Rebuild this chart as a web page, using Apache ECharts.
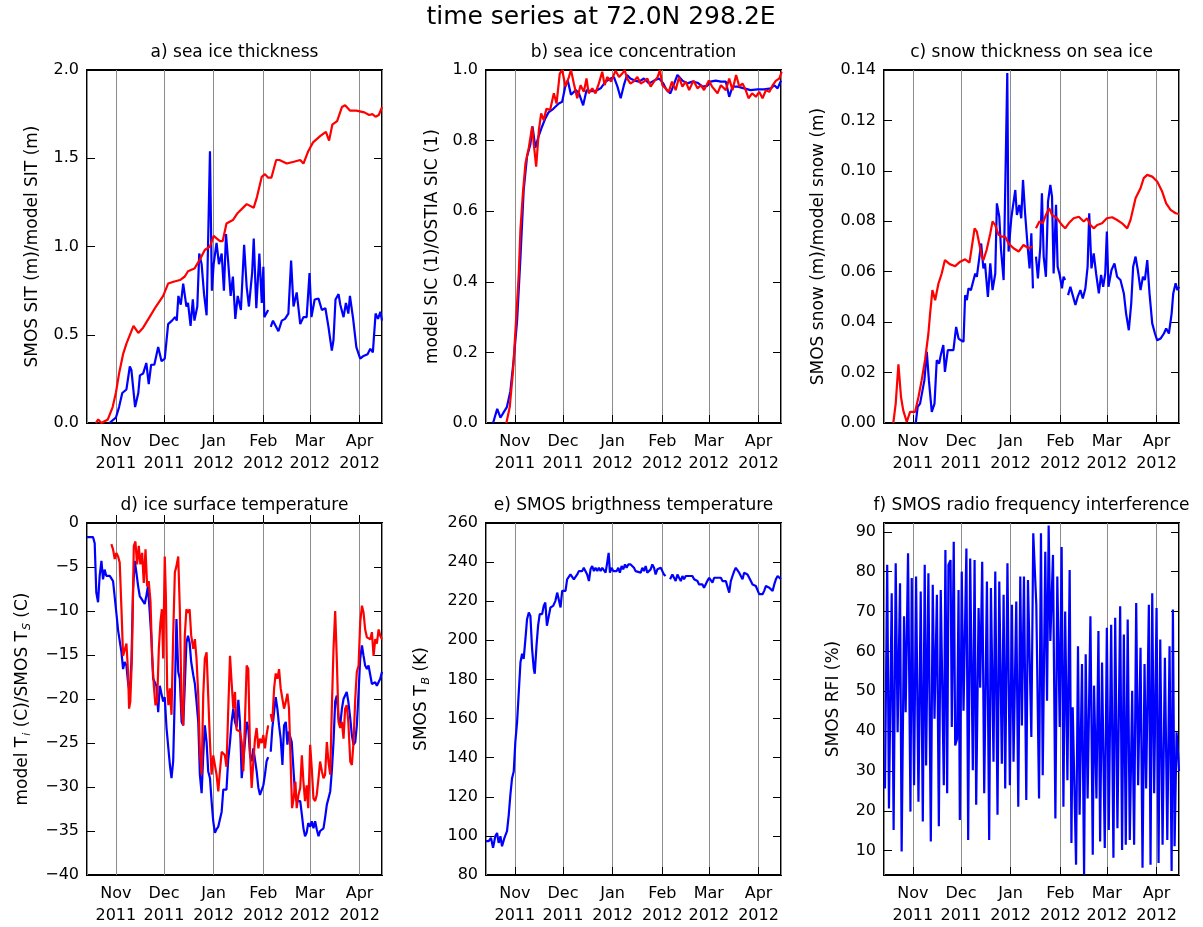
<!DOCTYPE html>
<html>
<head>
<meta charset="UTF-8">
<title>time series at 72.0N 298.2E</title>
<script src="https://cdn.jsdelivr.net/npm/echarts@6/dist/echarts.min.js"></script>
<style>
  html, body { margin: 0; padding: 0; background: #fff; }
  #main { width: 1203px; height: 927px; }
</style>
</head>
<body>
<div id="main"></div>
<script type="text/javascript">
// days counted from 14 Oct 2011
var sitSmos = [[14,0.0],[15,0.01],[18,0.03],[20,0.09],[22,0.17],[24.6,0.19],[26.7,0.32],[27.7,0.30],[30,0.09],[32,0.17],[33,0.27],[35,0.28],[37,0.34],[38.5,0.22],[40,0.33],[42,0.33],[44.4,0.43],[46.5,0.35],[48.5,0.365],[50.6,0.56],[53,0.58],[55,0.6],[56,0.58],[57,0.72],[58.5,0.67],[60,0.79],[62,0.66],[63,0.68],[64.6,0.55],[66,0.70],[67,0.58],[68.8,0.66],[70,0.96],[71.5,0.90],[73,0.73],[74.6,0.61],[75.6,0.61],[76.7,1.54],[77.9,0.75],[79,0.90],[80.8,1.02],[82.3,0.90],[84,0.96],[85.4,0.75],[86.7,1.07],[88,0.92],[89.6,0.72],[91,0.83],[92.5,0.59],[94,0.72],[96,0.64],[98,1.01],[99.6,0.77],[101,0.66],[103,0.85],[104,1.045],[105.6,0.65],[107.5,0.96],[109,0.68],[110,0.885],[110.6,0.60],[113,0.64],[113.8,'-'],[114.6,0.545],[116,0.58],[119.4,0.52],[121.5,0.58],[123.5,0.59],[125.6,0.62],[127.3,0.92],[128.8,0.66],[130.8,0.74],[133,0.56],[135,0.60],[137,0.60],[138.8,0.85],[140,0.60],[142,0.70],[144.4,0.705],[146.5,0.64],[148.7,0.65],[150.6,0.545],[152.7,0.41],[153.75,0.47],[155,0.70],[156.9,0.73],[158,0.67],[160,0.60],[161.5,0.68],[163,0.62],[164,0.72],[166,0.59],[168,0.43],[170.4,0.365],[172.5,0.38],[175,0.39],[176.7,0.42],[178.3,0.40],[180,0.62],[181.5,0.59],[183,0.63],[184,0.58]];
var sitModel = [[5.5,0.0],[7,0.02],[9,0.0],[13,0.02],[16,0.09],[18,0.17],[20,0.28],[22.5,0.39],[24.6,0.45],[29,0.55],[32,0.51],[35,0.54],[39,0.6],[43,0.66],[47.5,0.72],[50.6,0.79],[54,0.8],[58,0.81],[61,0.83],[63,0.86],[67,0.875],[70,0.92],[73.5,0.98],[76.7,1.0],[79,1.06],[81,1.045],[83,1.03],[84.6,1.03],[87,1.13],[91,1.15],[94,1.19],[99.6,1.24],[104,1.22],[106,1.28],[109,1.395],[111,1.41],[113,1.39],[115,1.39],[118,1.49],[120,1.49],[124.6,1.47],[129,1.48],[133,1.49],[135,1.47],[138,1.54],[141,1.59],[145.4,1.625],[149,1.65],[150,1.64],[151,1.6],[153,1.69],[156,1.71],[159,1.79],[161,1.80],[164,1.77],[168,1.77],[173,1.76],[176,1.745],[178,1.75],[180,1.735],[182,1.745],[184,1.79]];

var sicModel = [[4.4,0],[7,0.04],[9,0.015],[11,0.03],[13,0.045],[15.2,0.09],[17.3,0.18],[19.4,0.29],[21.5,0.47],[23.5,0.66],[25.6,0.755],[27.7,0.79],[29,0.84],[30.8,0.78],[33,0.815],[35,0.84],[37,0.863],[39,0.88],[42,0.89],[45.4,0.905],[47.5,0.91],[49.6,0.957],[51,0.97],[53,0.93],[56,0.943],[58,0.934],[60.6,0.90],[62.7,0.943],[65,0.94],[68,0.94],[71.5,0.948],[74.6,0.967],[77.7,0.976],[79.8,0.98],[82,0.953],[84,0.92],[86,0.957],[88,0.986],[90,0.976],[92.7,0.97],[95.4,0.967],[98.5,0.976],[101.7,0.962],[104.8,0.97],[108,0.976],[110.6,0.962],[112.7,0.943],[115,0.934],[117,0.957],[119.4,0.986],[122.5,0.97],[125.6,0.962],[128.8,0.967],[131.9,0.964],[135,0.953],[138,0.955],[140,0.967],[143.3,0.97],[146.5,0.967],[149.6,0.967],[151.7,0.924],[153.75,0.953],[157,0.953],[161,0.948],[165,0.943],[169.4,0.945],[173.5,0.945],[177.7,0.948],[179.8,0.957],[181.9,0.948],[184,0.97]];
var sicOstia = [[12.7,0],[14.8,0.045],[16.9,0.15],[19,0.31],[20.4,0.42],[21.5,0.55],[23,0.65],[24.6,0.735],[26.7,0.78],[28.8,0.84],[29.8,0.79],[31.3,0.726],[33,0.83],[34.4,0.877],[36,0.858],[37.7,0.89],[40,0.887],[42.3,0.934],[44,0.905],[46,0.99],[47.5,1.0],[49.6,0.953],[51.7,0.98],[53,1.0],[54.8,0.962],[56.9,0.92],[59,0.957],[61,0.938],[62.7,0.976],[64,0.934],[66.3,0.948],[68.3,0.934],[70.4,0.962],[72.5,0.995],[74,0.957],[75.6,0.98],[78,0.967],[80.8,0.998],[83,0.98],[85,0.99],[86.5,1.0],[88,0.976],[90,0.962],[92,0.967],[94.4,0.98],[96.5,0.962],[98.5,0.967],[100.6,0.976],[102.7,0.953],[104.8,0.967],[107,0.98],[108.5,1.0],[110,0.957],[112,0.948],[114,0.938],[116,0.967],[118.3,0.943],[120.4,0.98],[122.5,0.953],[124.6,0.967],[126.7,0.943],[129.4,0.97],[131.9,0.948],[134,0.957],[136,0.943],[139,0.97],[141,0.953],[144.4,0.934],[146.5,0.957],[149.6,0.943],[151.7,0.976],[153.75,0.943],[156,0.986],[158,0.953],[160,0.962],[162,0.943],[163.75,0.92],[166,0.934],[168.3,0.924],[170.4,0.938],[172.5,0.92],[174.6,0.943],[176.7,0.938],[178.8,0.957],[180.9,0.97],[183,0.976],[184.4,0.995]];

var snowSmos = [[19.8,0],[21,0.0064],[22.5,0.0077],[23.5,0.0077],[25.2,0.017],[26.7,0.0282],[28,0.017],[29.8,0.0044],[31.5,0.0077],[32.9,0.0249],[34.4,0.0236],[35.6,0.0275],[37,0.0309],[38,0.0203],[39.8,0.0289],[41,0.0295],[43.3,0.0289],[45,0.0381],[46.5,0.0335],[48,0.0328],[49.6,0.0322],[50.6,0.0507],[51.7,0.0487],[52.7,0.0534],[54.2,0.0527],[55.4,0.0534],[56.9,0.0593],[57.9,0.058],[59.4,0.0653],[60.6,0.0712],[62,0.0613],[63,0.0633],[64.8,0.05],[66.3,0.0633],[67.7,0.0527],[69.4,0.0593],[70.4,0.0871],[71.9,0.0818],[73,0.0686],[74.6,0.0567],[75.6,0.056],[76.9,0.1388],[77.7,0.068],[79.4,0.0812],[80.4,0.0858],[81.9,0.0924],[82.9,0.0825],[84.4,0.0865],[85.6,0.0812],[86.7,0.0964],[88,0.0832],[89.6,0.0699],[90.8,0.0613],[91.9,0.0752],[92.9,0.0534],[93.8,'-'],[94.8,0.066],[96,0.0573],[97.5,0.0699],[98.5,0.0911],[99.6,0.066],[101,0.058],[102.3,0.0878],[103.75,0.0944],[104.8,0.0898],[105.8,0.0593],[107.3,0.0865],[108.3,0.062],[109.6,0.0587],[111,0.0534],[112,0.058],[113,0.0567],[114,'-'],[114.8,0.0507],[116.25,0.054],[117.7,0.0507],[119.4,0.0468],[120.8,0.05],[122.5,0.0527],[124,0.0494],[125.6,0.0534],[127,0.062],[128,0.0832],[129.4,0.0613],[130.8,0.0673],[132.3,0.0593],[134,0.0514],[135.4,0.0587],[136.7,0.054],[138,0.0593],[139,0.0759],[140,0.054],[141.9,0.0607],[143.75,0.0633],[145.4,0.058],[147.5,0.0567],[149.6,0.0514],[151,0.0434],[152.7,0.0368],[154.2,0.0474],[155.4,0.062],[156.9,0.066],[158.3,0.0607],[160,0.0527],[161.5,0.058],[162.7,0.0567],[164.2,0.0646],[165.6,0.0514],[167.3,0.0395],[169,0.0355],[170.4,0.0328],[172.5,0.0335],[174.6,0.0355],[176,0.0375],[177.7,0.0355],[179.4,0.0434],[180.4,0.0514],[181.9,0.0554],[183,0.0527],[184,0.054]];
var snowModel = [[5.8,0],[7.3,0.0077],[9,0.0233],[10.6,0.0103],[12,0.005],[14.2,0.0004],[16.25,0.0044],[19.4,0.0044],[21.5,0.0103],[23.5,0.017],[25.6,0.025],[27.7,0.0355],[28.75,0.0434],[30.2,0.0527],[31.9,0.0487],[34,0.0554],[36,0.0593],[38,0.0646],[39,0.0653],[41,0.063],[44.4,0.0622],[47.5,0.064],[50.6,0.0649],[53.3,0.0636],[54.8,0.0699],[56.5,0.0772],[57.9,0.0759],[59.4,0.0712],[61,0.066],[62,0.0646],[64,0.0686],[66.3,0.0752],[67.7,0.0799],[69.4,0.0785],[71.5,0.0746],[73.5,0.0739],[75.6,0.0739],[77.7,0.0712],[80.8,0.0693],[84,0.068],[87,0.0706],[90.2,0.0693],[92.7,0.0699],[93.8,'-'],[94.8,0.0772],[96.9,0.0799],[99,0.0792],[101,0.0825],[103,0.0852],[104.8,0.0825],[108,0.0812],[111,0.0785],[113,0.0772],[115.2,0.0792],[118.3,0.0812],[121.5,0.0818],[124.6,0.0799],[126.7,0.0812],[128.75,0.0785],[130.8,0.0772],[133,0.0785],[136,0.0792],[139,0.0812],[142.3,0.0816],[145.4,0.0805],[148.5,0.0792],[151.7,0.0772],[153.75,0.0805],[156.9,0.0891],[160,0.0931],[162,0.0971],[164.2,0.0984],[167.3,0.0977],[170.4,0.0958],[173.5,0.0918],[176,0.0871],[178.75,0.0845],[181.9,0.0832],[184,0.0829]];

var tiModel = [[0,-1.6],[3.75,-1.6],[4.8,-2.3],[5.8,-7.9],[6.9,-9.0],[7.9,-6.0],[9,-4.3],[10,-6.4],[11,-5.3],[12,-6.0],[14.2,-6.0],[16.25,-6.6],[18.3,-10.2],[19.4,-12.2],[20.4,-12.4],[21.5,-14.7],[22.5,-16.6],[23.5,-15.8],[24.6,-16.2],[25.6,-18.1],[26.7,-19.4],[27.7,-15.8],[28.75,-7.5],[29.8,-4.3],[30.8,-5.6],[31.9,-7.2],[32.9,-8.3],[35,-8.9],[36,-9.2],[37,-8.3],[38,-7.2],[39,-9.8],[40.2,-13.2],[41.25,-17.7],[42.3,-17.7],[43.3,-18.5],[44.4,-21.5],[45.4,-18.5],[46.5,-18.3],[47.5,-20.3],[48.5,-19.8],[49.6,-23.3],[50.6,-23.5],[51.7,-27.5],[52.7,-29.0],[53.75,-27.1],[54.8,-19.2],[55.8,-10.9],[56.9,-16.9],[57.9,-17.7],[59,-22.6],[60,-23.0],[61,-18.5],[62,-13.6],[63,-12.8],[64,-13.6],[65,-15.8],[66.3,-17.3],[67.3,-18.3],[68.3,-20.3],[69.4,-22.6],[70.4,-28.6],[71.5,-30.7],[72.5,-26.4],[73.5,-23.0],[74.6,-24.9],[75.6,-28.2],[76.7,-29.0],[77.7,-31.6],[78.75,-33.9],[79.8,-35.2],[80.8,-34.8],[81.9,-34.5],[82.9,-34.3],[84,-32.8],[85,-30.3],[86,-30.5],[87,-30.3],[88,-27.1],[89.2,-24.9],[90.2,-22.6],[91.25,-21.1],[92.3,-22.6],[93.3,-23.2],[94.4,-20.1],[95.4,-22.6],[96.5,-29.0],[97.5,-27.1],[98.5,-24.9],[99.6,-22.6],[100.6,-23.3],[101.7,-26.4],[102.7,-27.1],[103.75,-25.6],[104.8,-25.8],[105.8,-28.2],[106.9,-30.1],[107.9,-30.9],[109,-31.1],[110,-29.8],[111,-28.6],[112,-27.1],[113,-26.6],[113.8,'-'],[114.6,-26.0],[115.6,-23.3],[116.7,-21.5],[117.7,-19.8],[118.75,-21.1],[119.8,-23.0],[120.8,-24.5],[121.9,-27.5],[122.9,-23.0],[124,-22.6],[125,-25.2],[125.8,-23.7],[127.7,-24.9],[128.75,-27.9],[129.8,-30.9],[130.8,-31.6],[131.9,-31.5],[133,-31.6],[134,-33.1],[135,-34.7],[136,-35.6],[137,-35.2],[138,-34.1],[139.2,-34.5],[140.2,-33.9],[141.25,-34.7],[142.3,-33.9],[143.3,-34.8],[144.4,-35.6],[145.4,-35.0],[146.5,-34.8],[147.5,-34.7],[148.5,-33.5],[149.6,-32.0],[150.6,-31.3],[151.7,-30.5],[152.7,-28.2],[153.75,-24.9],[154.8,-20.3],[155.8,-19.6],[156.9,-22.2],[157.9,-23.0],[159,-21.1],[160,-20.0],[161,-19.6],[162,-19.2],[163,-20.3],[164.2,-22.2],[165.2,-24.1],[166.25,-25.2],[167.3,-24.9],[168.3,-23.0],[169.4,-19.2],[170.4,-15.4],[171.5,-13.9],[172.5,-15.1],[173.5,-16.2],[174.6,-16.6],[175.6,-16.2],[176.7,-17.3],[177.7,-18.3],[178.75,-18.5],[179.8,-18.1],[180.8,-18.5],[181.9,-18.3],[182.9,-17.7],[184,-16.9]];
var tsSmos = [[15.2,-2.4],[16.25,-3.0],[17.3,-4.1],[18.3,-3.4],[19.4,-3.8],[20.4,-4.5],[21.5,-9.8],[22.5,-15.1],[23.5,-15.1],[24.6,-13.7],[25.6,-16.9],[26.25,-21.1],[27,-20.3],[28,-15.4],[29.2,-2.6],[30.2,-2.1],[31.25,-4.7],[32.3,-2.6],[33.3,-4.7],[34.4,-3.4],[35.4,-6.8],[36.5,-3.0],[37.5,-7.2],[38.5,-6.6],[39.6,-8.9],[40.6,-15.1],[41.7,-18.5],[42.7,-20.7],[43.75,-20.3],[44.8,-14.3],[45.8,-11.3],[46.7,-9.8],[47.5,-15.4],[48.5,-3.8],[49.2,-8.3],[50,-18.8],[50.8,-20.7],[51.7,-18.8],[52.7,-21.8],[53.75,-12.8],[54.8,-5.6],[55.8,-4.9],[56.9,-3.8],[57.9,-9.8],[59,-21.1],[60,-23.0],[61,-12.8],[62,-9.8],[63,-10.2],[64,-9.8],[65,-12.8],[66.3,-14.3],[67.3,-13.2],[68.3,-15.4],[69.4,-19.6],[70.4,-26.0],[71.5,-28.6],[72.5,-19.6],[73.5,-15.4],[74.6,-14.7],[75.6,-19.6],[76.7,-24.9],[77.7,-28.6],[78.75,-26.4],[79.8,-26.4],[80.8,-28.6],[81.9,-30.5],[82.9,-28.2],[84,-26.0],[85,-25.8],[86,-26.4],[87,-27.7],[88,-21.8],[89.2,-15.1],[90.2,-18.1],[91.25,-21.1],[92.3,-19.2],[93.3,-23.5],[94.4,-23.3],[95.4,-23.7],[96.5,-24.9],[97.5,-28.2],[98.5,-22.6],[99.6,-16.2],[100.6,-16.6],[101.7,-26.0],[102.7,-30.1],[103.75,-27.1],[104.8,-24.5],[105.8,-23.3],[106.9,-25.6],[107.9,-24.5],[109,-25.0],[110,-24.1],[111,-25.6],[112,-24.1],[113,-23.0],[113.8,'-'],[114.6,-21.7],[115.6,-22.6],[116.7,-18.8],[117.7,-17.1],[118.75,-17.7],[119.8,-16.6],[120.8,-18.8],[121.9,-20.0],[122.9,-21.1],[124,-20.3],[125,-19.4],[126,-21.1],[127,-27.1],[127.9,-32.4],[128.9,-31.3],[130,-29.4],[130.8,-32.4],[131.9,-30.9],[133,-30.1],[134,-26.4],[135,-29.4],[136,-31.6],[137,-29.8],[138,-32.4],[139.2,-25.2],[140.2,-27.9],[141.25,-31.3],[142.3,-31.6],[143.3,-30.9],[144.4,-29.0],[145.4,-27.1],[146.5,-28.2],[147.5,-29.0],[148.5,-28.6],[149.6,-24.9],[150.6,-27.1],[151.7,-28.6],[152.7,-21.1],[153.75,-14.3],[154.8,-10.0],[155.8,-15.4],[156.9,-22.6],[157.9,-23.3],[159,-22.6],[160,-24.5],[161,-21.1],[162,-20.7],[163,-22.6],[164.2,-27.1],[165.2,-27.5],[166.25,-24.9],[167.3,-20.0],[168.3,-16.9],[169.4,-16.2],[170.4,-11.3],[171.5,-9.4],[172.5,-10.2],[173.5,-12.1],[174.6,-13.0],[175.6,-12.8],[176.7,-13.2],[177.7,-12.4],[178.75,-15.1],[179.8,-13.2],[180.8,-13.7],[181.9,-12.1],[182.9,-12.8],[184,-13.2]];

var tbSmos = [[0,97.3],[1.7,97.3],[3.1,99.0],[4.4,93.9],[5.8,99.8],[6.9,101.5],[7.9,96.4],[9,99.8],[10,94.7],[11.5,99.0],[13.1,102.4],[14.2,110.8],[15.2,121],[16.25,129.5],[17.3,132.9],[18.3,148.1],[19.4,158.3],[20.4,158.3],[21.5,188.8],[22.5,193.1],[23.5,190.5],[24.6,200.7],[25.6,210.8],[26.7,214.2],[27.7,212.5],[28.75,195.6],[29.8,185.4],[30.4,182.9],[31.5,197.3],[32.5,207.5],[33.5,213.4],[35,213.4],[36,217.6],[37,219.3],[38,207.5],[39.2,212.5],[40.2,216.8],[41.9,217.6],[43.3,220.2],[44.4,224.4],[45.4,225.3],[46.5,216.8],[47.5,225.3],[48.5,226.1],[49.6,225.3],[50.6,231.2],[51.7,231.2],[52.7,233.7],[53.75,234.6],[54.8,231.2],[55.8,232.0],[56.9,233.7],[57.9,235.4],[59,236.3],[60,235.4],[61,237.1],[62,235.4],[63.1,233.7],[64.2,230.3],[65.2,236.3],[66.25,238.0],[67.3,235.4],[68.3,237.1],[69.4,235.4],[70.4,237.1],[71.5,235.4],[72.5,237.1],[73.5,236.3],[74.6,234.6],[75.6,239.7],[76.5,244.7],[77.3,234.6],[78.3,237.1],[79.4,235.4],[80.4,236.3],[81.5,235.4],[82.5,237.1],[83.5,234.6],[84.6,238.0],[85.6,236.3],[86.7,238.8],[87.7,237.1],[88.75,238.8],[90.2,238.8],[91.25,238.0],[92.3,237.1],[93.3,235.4],[94.4,234.6],[96.5,234.6],[97.5,237.1],[98.5,235.4],[99.6,238.0],[100.6,234.6],[101.7,233.7],[102.7,236.3],[103.75,238.8],[104.8,237.1],[105.8,233.7],[106.9,236.3],[107.9,235.4],[109,237.1],[110,235.4],[111,233.7],[112,232.9],[113.5,'-'],[114.8,231.2],[116.25,233.7],[117.3,232.9],[118.3,230.3],[119.4,233.7],[120.4,232.0],[121.5,230.3],[122.5,232.9],[123.5,231.2],[124.6,232.9],[125.6,232.0],[126.7,232.9],[127.7,233.7],[128.75,232.9],[129.8,231.2],[130.8,230.3],[131.9,230.3],[132.9,228.6],[134,227.8],[135,228.6],[136,226.9],[137,228.6],[138,230.3],[139.2,232.0],[140.2,232.0],[141.25,229.5],[142.3,232.0],[143.3,231.2],[144.4,232.0],[145.4,231.2],[146.5,232.0],[147.5,230.3],[148.5,231.2],[149.6,230.3],[150.6,229.5],[151.7,224.4],[152.7,230.3],[153.75,232.9],[154.8,235.4],[155.8,237.1],[156.9,236.3],[157.9,234.6],[159,233.7],[160,231.2],[161,234.6],[162,235.4],[163.1,233.7],[164.2,233.7],[165.2,230.3],[166.25,228.6],[167.3,228.6],[168.3,227.8],[169.4,226.9],[170.4,223.6],[171.5,222.7],[172.5,223.6],[173.5,225.3],[174.6,227.8],[175.6,228.6],[176.7,226.9],[177.7,226.1],[178.75,225.3],[179.8,228.6],[180.8,231.2],[181.9,232.9],[182.9,232.0],[184,231.2]];

var rfiSmos = [[0.6,25.6],[2,81.7],[3.1,20.6],[4.8,74.6],[6,15.2],[7.3,82.1],[8.5,39.7],[10,77.1],[11,9.8],[12.5,68.8],[13.5,44.7],[15,84.6],[16.5,19.8],[17.3,78.4],[18.75,26.4],[20,78.8],[21.5,22.3],[22.9,75.0],[24.2,17.3],[25.4,81.7],[26.25,31.4],[27.7,79.6],[29.2,12.3],[30.4,76.7],[31.5,43.1],[33,74.2],[34.2,16.1],[35.4,75.4],[37.3,26.4],[38.3,85.4],[39.4,24.4],[40.2,81.7],[41.5,82.9],[42.3,41.0],[43.5,87.5],[44.4,36.4],[45.6,38.1],[46.5,75.4],[47.3,17.7],[48.5,80.0],[49.6,45.1],[51.4,85.8],[52.5,12.7],[53.75,83.3],[55.4,30.2],[56.5,82.9],[57.5,21.5],[59,70.9],[60,50.9],[61.25,82.5],[62.5,24.4],[64.2,77.5],[65.6,12.7],[66.7,75.9],[68.3,32.3],[69.4,80.0],[70.8,19.0],[71.9,77.5],[73.5,31.8],[74.6,74.2],[75.6,25.6],[77,82.1],[78.5,26.4],[79.8,71.7],[80.8,32.3],[82.5,72.5],[83.75,21.0],[85,78.8],[86,41.4],[87.3,78.8],[88.75,22.7],[89.8,77.9],[91.9,38.5],[93.1,89.6],[95,71.7],[96.7,23.1],[97.9,89.6],[99,28.9],[100.6,85.0],[101.7,47.6],[102.7,91.6],[103.75,62.6],[105.4,84.2],[106.9,18.1],[108.1,78.8],[109.6,41.0],[110.8,86.2],[111.9,21.0],[113,70.0],[114.4,27.7],[115.8,80.4],[116.9,11.9],[117.7,46.0],[118.75,45.5],[119.8,6.5],[121,61.3],[122,19.0],[123.5,56.8],[124.8,4.0],[125.8,59.3],[127,23.1],[128.75,68.8],[130.2,9.0],[131,51.4],[132.5,23.1],[133.75,65.1],[134.8,12.3],[136,57.2],[137.7,10.7],[139,65.9],[140.2,15.2],[141.7,66.7],[143.1,8.2],[144.2,68.4],[145.6,15.6],[147.3,71.3],[148.5,10.2],[149.6,64.2],[150.8,11.5],[152,68.0],[153.3,12.7],[154.8,50.1],[156,11.5],[157.3,72.1],[158.5,26.4],[160,60.9],[161.25,5.7],[162.5,56.8],[163.5,25.6],[165.2,71.7],[166.25,6.5],[167.3,74.6],[168.5,24.4],[170,70.9],[171.25,6.9],[172.3,63.0],[173.75,11.5],[175.2,58.4],[176.7,12.7],[178.1,61.3],[179.4,4.9],[180.2,70.5],[181.25,11.1],[182.5,39.7],[183.5,33.9],[184,30.0]];

var monthNames = ['Jan','Feb','Mar','Apr','May','Jun','Jul','Aug','Sep','Oct','Nov','Dec'];
var DAY = 86400000;
var t0 = new Date(2011, 9, 14).getTime();
var tEnd = t0 + 184 * DAY;
var FONT = 'DejaVu Sans';

// day offsets -> time stamps
function toTime(arr) {
    return arr.map(function (p) { return [t0 + p[0] * DAY, p[1]]; });
}

// layout of the six panels
var lefts = [87, 486, 884];
var tops = [70, 523];
var panelW = 295;

var panels = [
    { title: 'a) sea ice thickness', name: 'SMOS SIT (m)/model SIT (m)', min: 0, max: 2, interval: 0.5, dec: 1, gap: 46,
      series: [[sitSmos, '#0000ff'], [sitModel, '#ff0000']] },
    { title: 'b) sea ice concentration', name: 'model SIC (1)/OSTIA SIC (1)', min: 0, max: 1, interval: 0.2, dec: 1, gap: 45,
      series: [[sicModel, '#0000ff'], [sicOstia, '#ff0000']] },
    { title: 'c) snow thickness on sea ice', name: 'SMOS snow (m)/model snow (m)', min: 0, max: 0.14, interval: 0.02, dec: 2, gap: 57,
      series: [[snowSmos, '#0000ff'], [snowModel, '#ff0000']] },
    { title: 'd) ice surface temperature', name: 'model T{sub|i} (C)/SMOS T{sub|S} (C)', min: -40, max: 0, interval: 5, dec: 0, gap: 54,
      series: [[tiModel, '#0000ff'], [tsSmos, '#ff0000']] },
    { title: 'e) SMOS brigthness temperature', name: 'SMOS T{sub|B} (K)', min: 80, max: 260, interval: 20, dec: 0, gap: 54,
      series: [[tbSmos, '#0000ff']] },
    { title: 'f) SMOS radio frequency interference', name: 'SMOS RFI (%)', min: 3.9, max: 92.2, ticks: [10, 20, 30, 40, 50, 60, 70, 80, 90], dec: 0, gap: 42,
      series: [[rfiSmos, '#0000ff']] }
];

var option = {
    animation: false,
    backgroundColor: '#fff',
    title: [{
        text: 'time series at 72.0N 298.2E',
        left: 601, top: 5, textAlign: 'center', padding: 0,
        textStyle: { fontFamily: FONT, fontSize: 25, fontWeight: 'normal', color: '#000' }
    }],
    grid: [], xAxis: [], yAxis: [], series: []
};

panels.forEach(function (p, i) {
    var col = i % 3, row = Math.floor(i / 3);
    var left = lefts[col], top = tops[row];
    var h = row === 0 ? 353 : 354;

    option.title.push({
        text: p.title,
        left: left + panelW / 2, top: top - 26, textAlign: 'center', padding: 0,
        textStyle: { fontFamily: FONT, fontSize: 17, fontWeight: 'normal', color: '#000' }
    });

    option.grid.push({
        left: left, top: top, width: panelW, height: h,
        show: true, borderColor: '#000', borderWidth: 2, backgroundColor: 'transparent'
    });

    option.xAxis.push({
        type: 'time', gridIndex: i, min: t0, max: tEnd, splitNumber: 6,
        axisLine: { show: false },
        axisTick: { show: true, inside: true, length: 8, lineStyle: { color: '#000' } },
        splitLine: { show: true, lineStyle: { color: '#8c8c8c', width: 1 } },
        axisLabel: {
            margin: 8, fontFamily: FONT, fontSize: 16, color: '#000', lineHeight: 22,
            formatter: function (v) {
                var d = new Date(v);
                return monthNames[d.getMonth()] + '\n' + d.getFullYear();
            }
        }
    });

    var labelFmt = function (v) {
        return v.toFixed(p.dec).replace('-', '\u2212');
    };
    var yLeft = {
        type: 'value', gridIndex: i, position: 'left', min: p.min, max: p.max,
        name: p.name, nameLocation: 'middle', nameGap: p.gap, nameRotate: 90,
        nameTextStyle: {
            fontFamily: FONT, fontSize: 17, color: '#000',
            rich: { sub: { fontFamily: FONT, fontSize: 11, fontStyle: 'italic', color: '#000', padding: [10, 0, 0, 1] } }
        },
        axisLine: { show: false },
        axisTick: { show: true, inside: true, length: 8, lineStyle: { color: '#000' } },
        splitLine: { show: false },
        axisLabel: { margin: 8, fontFamily: FONT, fontSize: 16, color: '#000', formatter: labelFmt }
    };
    var yRight = {
        type: 'value', gridIndex: i, position: 'right', min: p.min, max: p.max,
        axisLine: { show: false },
        axisTick: { show: true, inside: true, length: 8, lineStyle: { color: '#000' } },
        splitLine: { show: false },
        axisLabel: { show: false }
    };
    if (p.ticks) {
        yLeft.axisTick.customValues = p.ticks;
        yLeft.axisLabel.customValues = p.ticks;
        yRight.axisTick.customValues = p.ticks;
    } else {
        yLeft.interval = p.interval;
        yRight.interval = p.interval;
    }
    var yIndex = option.yAxis.length;
    option.yAxis.push(yLeft, yRight);

    p.series.forEach(function (s) {
        option.series.push({
            type: 'line', xAxisIndex: i, yAxisIndex: yIndex,
            data: toTime(s[0]), showSymbol: false, connectNulls: false, clip: true,
            lineStyle: { color: s[1], width: 2.2 }, itemStyle: { color: s[1] }
        });
    });
});

var chart = echarts.init(document.getElementById('main'), null, { renderer: 'canvas' });
chart.setOption(option);
</script>
</body>
</html>
